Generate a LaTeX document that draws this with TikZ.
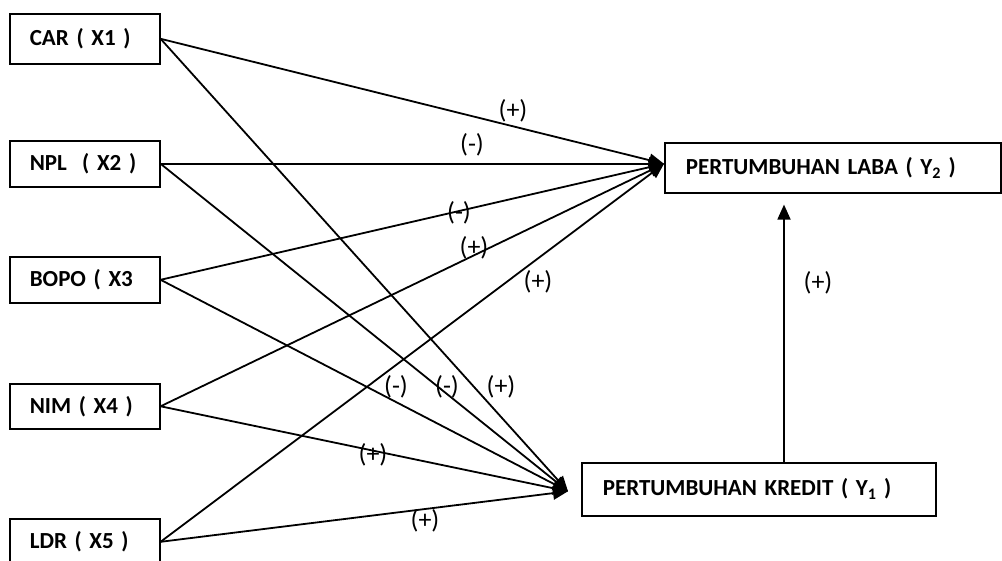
\documentclass[tikz,border=0pt]{standalone}
\usepackage{fontspec}
\setmainfont{Carlito}
\usetikzlibrary{arrows.meta}

\begin{document}
\begin{tikzpicture}[x=1pt,y=-1pt,
  box/.style={draw,line width=1.6pt,anchor=north west,inner xsep=0pt,align=left,
    font=\fontsize{23}{26}\selectfont\bfseries},
  arr/.style={line width=1.8pt,-{Triangle[length=15pt,width=13pt]}},
  lbl/.style={font=\fontsize{26}{28}\selectfont,inner sep=0pt}]
\useasboundingbox (0,0) rectangle (1002,561);
% variabel bebas
\node[box,minimum width=150pt,minimum height=50pt,text width=110pt] (car) at (9,13) {CAR ( X1 )};
\node[box,minimum width=150pt,minimum height=46pt,text width=110pt] (npl) at (9,140) {NPL \ ( X2 )};
\node[box,minimum width=150pt,minimum height=46pt,text width=110pt] (bopo) at (9,256) {BOPO ( X3};
\node[box,minimum width=150pt,minimum height=45pt,text width=110pt] (nim) at (9,383) {NIM ( X4 )};
\node[box,minimum width=150pt,minimum height=46pt,text width=110pt] (ldr) at (9,518) {LDR ( X5 )};
% variabel terikat
\node[box,minimum width=336pt,minimum height=50pt,text width=294pt] (laba) at (664,142) {PERTUMBUHAN LABA ( Y\textsubscript{2} )};
\node[box,minimum width=354pt,minimum height=53pt,text width=312pt] (kredit) at (581,462) {PERTUMBUHAN KREDIT ( Y\textsubscript{1} )};
\coordinate (labain) at ([yshift=4pt]laba.west);
\coordinate (kreditin) at ([xshift=-13pt,yshift=-2pt]kredit.west);
% panah
\foreach \v in {car,npl,bopo,nim,ldr}{
  \draw[arr] (\v.east) -- (labain);
  \draw[arr] (\v.east) -- (kreditin);
}
\draw[arr] (kredit.north -| 784,0) -- ([yshift=-11pt]laba.south -| 784,0);
% tanda
\node[lbl] (s1) at (513,111) {(+)};
\node[lbl] (s2) at (472,145) {(-)};
\node[lbl] (s3) at (459,213) {(-)};
\node[lbl] (s4) at (474,248) {(+)};
\node[lbl] (s5) at (538,282) {(+)};
\node[lbl] (s6) at (396,387) {(-)};
\node[lbl] (s7) at (447,387) {(-)};
\node[lbl] (s8) at (501,387) {(+)};
\node[lbl] (s9) at (373,455) {(+)};
\node[lbl] (s10) at (425,521) {(+)};
\node[lbl] (s11) at (818,283) {(+)};
\end{tikzpicture}
\end{document}
